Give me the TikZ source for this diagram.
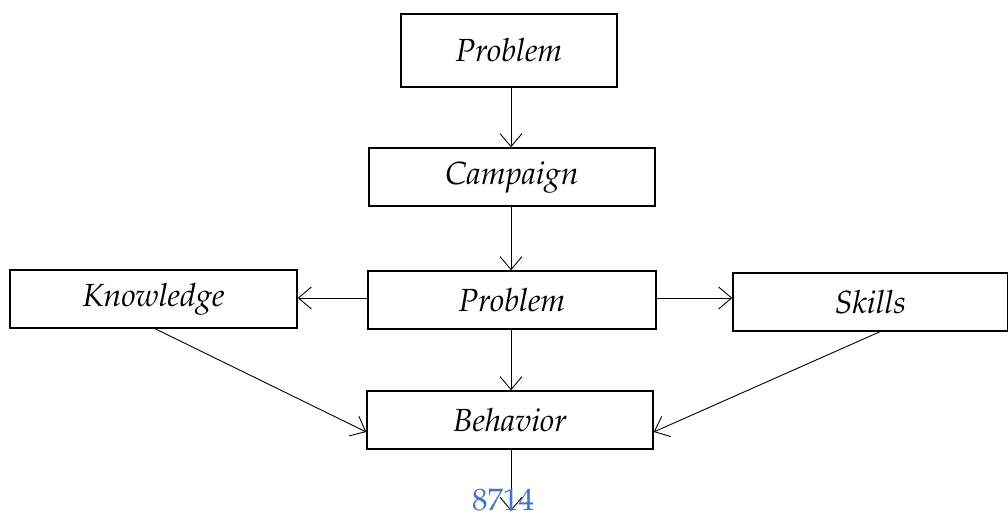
\documentclass[tikz,border=0pt]{standalone}
\usepackage[T1]{fontenc}
\usepackage{mathpazo}
\usetikzlibrary{arrows.meta}
\definecolor{numblue}{RGB}{68,114,196}
\tikzset{
  box/.style={draw, line width=1.4pt, minimum height=58pt, inner sep=0pt, font=\fontsize{32}{38}\selectfont\itshape},
  conn/.style={line width=0.9pt, -{Straight Barb[length=13pt,width=22pt,line width=0.9pt]}},
}
\begin{document}
\begin{tikzpicture}[x=1pt,y=-1pt]
\useasboundingbox (0,0) rectangle (1008,518);
\node[box, minimum width=216pt, minimum height=73pt] (p1) at (509,50.5) {Problem};
\node[box, minimum width=286pt] (camp) at (512,177) {Campaign};
\node[box, minimum width=288pt] (p2) at (512,300) {Problem};
\node[box, minimum width=287pt] (know) at (153.5,299) {Knowledge};
\node[box, minimum width=275pt] (skill) at (870.5,302) {Skills};
\node[box, minimum width=286pt] (beh) at (510,420) {Behavior};
\coordinate (end) at (511,511);
\draw[conn] (p1.south -| 511,0) -- (camp.north -| 511,0);
\draw[conn] (camp.south -| 511,0) -- (p2.north -| 511,0);
\draw[conn] (p2.west |- 0,298) -- (know.east |- 0,298);
\draw[conn] (p2.east |- 0,298) -- (skill.west |- 0,298);
\draw[conn] (p2.south -| 511,0) -- (beh.north -| 511,0);
\draw[conn] (know.south -| 155,0) -- (beh.west |- 0,432);
\draw[conn] (skill.south -| 880,0) -- (beh.east |- 0,432);
\draw[conn] (beh.south -| 511,0) -- (end);
\node[text=numblue, font=\fontsize{31}{36}\selectfont, inner sep=0pt] (num) at (503,500) {8714};
\end{tikzpicture}
\end{document}
